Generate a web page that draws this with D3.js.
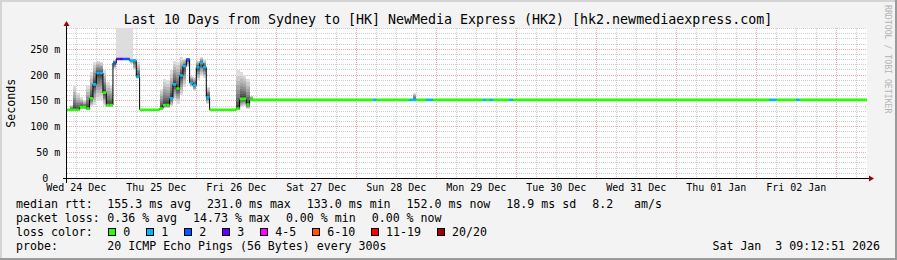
<!DOCTYPE html>
<html><head><meta charset="utf-8">
<script src="https://cdn.jsdelivr.net/npm/d3@7"></script>
<style>
body{margin:0;background:#f3f3f3}
svg{display:block}
text{font-family:"DejaVu Sans Mono",monospace;white-space:pre}
</style>
</head><body><div id="chart"></div>
<script>
// ---------------- data ----------------
const title = "Last 10 Days from Sydney to [HK] NewMedia Express (HK2) [hk2.newmediaexpress.com]";
const startTime = "2025-12-24T09:12:51Z";
const endTime = "2026-01-03T09:12:51Z";
const baseDay = "2025-12-24T00:00:00Z"; // bin start hours are counted from here
// hourly bins (a bin lasts until the next start); last bin ends at binEndLast
const binStart  = [9,10,11,12,13,14,15,16,17,18,19,20,21,22,23,24,25,26,27,28,29,30,31,37,38,39,40,41,42,43,44,45,46,47,48,49,50,51,52,60,61,62,63,64,65,101,102,112,113,114,117,119,134,135,136,137,142,143,220,222,228,229];
const binEndLast = 250;
const binMedian = [133,133,133,133,138,138,135,155,182,204,204,166,142,142,223,231,231,231,231,228,228,197,133,135,142,142,155,182,174,199,217,230,185,180,215,223,215,157,133,135,154,154,143,152,152,152,152,152,152,152,152,152,152,152,152,152,152,152,152,152,152,152];
const binLoss   = [0,0,0,0,0,0,0,0,1,1,1,0,0,0,2,3,3,2,2,1,1,1,0,0,0,0,1,1,0,1,1,2,1,1,1,1,1,1,0,0,0,0,0,0,0,1,0,1,1,0,1,0,1,0,1,0,1,0,1,0,1,0];
const smokeLo   = [132,132,132,132,134,134,133,140,142,150,152,141,138,138,212,229,229,229,229,222,209,193,132,133,136,136,141,151,145,161,177,215,177,170,190,199,195,145,132,133,138,140,135,150,151,151,151,151,150,151,151,151,151,151,151,151,151,151,151,151,151,151];
const smokeHi   = [134,142,180,165,157,152,180,205,225,228,226,209,186,180,230,233,233,233,233,232,232,225,134,174,193,190,209,228,226,235,231,233,199,196,228,235,230,177,134,209,206,200,193,160,153,153,153,153,166,153,153,153,153,153,153,153,153,153,153,153,153,153];
const smokeCeil = [null,null,null,null,null,null,null,null,null,null,null,null,null,null,null,300,300,300,300,300,null,null,null,null,null,null,null,null,null,null,null,null,null,null,null,null,null,null,null,null,null,null,null,null,null,null,null,null,null,null,null,null,null,null,null,null,null,null,null,null,null,null];
const yTicks = [0,50,100,150,200,250];
const yMax = 290;
const lossLabels = ["0","1","2","3","4-5","6-10","11-19","20/20"];
const lossColors = ["#26ff00","#00b8ff","#0059ff","#5e00ff","#ff00ff","#ff5500","#ff0000","#a00000"];
const rttLabel = "median rtt:";
const rttItems = ["155.3 ms avg","231.0 ms max","133.0 ms min","152.0 ms now","18.9 ms sd","8.2   am/s"];
const lossLabel = "packet loss:";
const lossItems = ["0.36 % avg","14.73 % max","0.00 % min","0.00 % now"];
const colorLabel = "loss color:";
const probeLabel = "probe:";
const probeText = "20 ICMP Echo Pings (56 Bytes) every 300s";
const stampText = "Sat Jan  3 09:12:51 2026";
const yAxisTitle = "Seconds";
const watermark = "RRDTOOL / TOBI OETIKER";

// ---------------- layout ----------------
const W = 897, H = 260;
const PL = 67, PR = 867, PT = 28, PB = 178.5;
const mono = '"DejaVu Sans Mono",monospace';

const svg = d3.select("#chart").append("svg").attr("width", W).attr("height", H);
svg.append("rect").attr("width", W).attr("height", H).attr("fill", "#f3f3f3");
// frame shading
svg.append("path").attr("d", `M0,0H${W}V2H2V${H}H0Z`).attr("fill", "#d4d4d4");
svg.append("path").attr("d", `M${W},${H}H0V${H-2}H${W-2}V0H${W}Z`).attr("fill", "#9a9a9a");

const x = d3.scaleUtc().domain([new Date(startTime), new Date(endTime)]).range([PL, PR]);
const y = d3.scaleLinear().domain([0, yMax]).range([PB, PT + 0.5]);
const base = new Date(baseDay).getTime();
const hx = h => x(new Date(base + h * 3600e3));
const crisp = v => Math.round(v - 0.5) + 0.5;

// canvas
svg.append("rect").attr("x", PL).attr("y", PT).attr("width", PR - PL).attr("height", PB - PT).attr("fill", "#ffffff");

// grid
const grid = svg.append("g").attr("shape-rendering", "crispEdges").attr("stroke-dasharray", "1,1").attr("stroke-width", 1);
for (let v = 10; v <= yMax; v += 10) {
  const major = yTicks.includes(v);
  grid.append("line").attr("x1", PL).attr("x2", PR).attr("y1", crisp(y(v))).attr("y2", crisp(y(v)))
    .attr("stroke", major ? "#eca8a8" : "#cfcfcf");
}
const t0 = new Date(startTime), t1 = new Date(endTime);
d3.utcHour.every(6).range(t0, t1).forEach(t => {
  const major = t.getUTCHours() === 0;
  grid.append("line").attr("x1", crisp(x(t))).attr("x2", crisp(x(t))).attr("y1", PT).attr("y2", PB)
    .attr("stroke", major ? "#eca8a8" : "#cfcfcf");
});

// data
svg.append("clipPath").attr("id", "pc").append("rect")
  .attr("x", PL).attr("y", PT).attr("width", PR - PL).attr("height", PB - PT);
const data = svg.append("g").attr("clip-path", "url(#pc)");
const bins = binStart.map((s, i) => ({
  s, e: i + 1 < binStart.length ? binStart[i + 1] : binEndLast,
  med: binMedian[i], loss: binLoss[i], lo: smokeLo[i], hi: smokeHi[i], ceil: smokeCeil[i]
}));
const lossClass = n => n <= 3 ? n : n <= 5 ? 4 : n <= 10 ? 5 : n <= 19 ? 6 : 7;

const smoke = data.append("g").attr("shape-rendering", "crispEdges");
const NB = 10;
bins.forEach(b => {
  const x0 = Math.round(hx(b.s)), x1 = Math.round(hx(b.e));
  if (b.ceil != null) {
    smoke.append("rect").attr("x", x0).attr("width", x1 - x0)
      .attr("y", y(b.ceil)).attr("height", y(b.hi) - y(b.ceil)).attr("fill", "#dddddd");
  }
  for (let k = 0; k < NB; k++) {
    const f = Math.pow((NB - k) / NB, 1.4);
    const top = b.med + (b.hi - b.med) * f, bot = b.med - (b.med - b.lo) * f;
    const g = Math.round(221 - k * (171 / (NB - 1)));
    const yt = y(top), yb = y(bot);
    if (yb - yt < 0.3) continue;
    smoke.append("rect").attr("x", x0).attr("width", x1 - x0)
      .attr("y", yt).attr("height", yb - yt).attr("fill", d3.rgb(g, g, g));
  }
});

// median black step line
const medPts = [];
bins.forEach(b => { medPts.push([hx(b.s), y(b.med)]); medPts.push([hx(b.e), y(b.med)]); });
data.append("path").attr("d", d3.line()(medPts)).attr("fill", "none").attr("stroke", "#000").attr("stroke-width", 1);

// loss coloured median: horizontal dashes per bin
const segLine = d3.line();
bins.forEach(b => {
  data.append("path").attr("d", segLine([[hx(b.s), y(b.med)], [hx(b.e), y(b.med)]]))
    .attr("fill", "none").attr("stroke", lossColors[lossClass(b.loss)]).attr("stroke-width", 2.6);
});

// axes
const axis = svg.append("g").attr("shape-rendering", "crispEdges");
axis.append("line").attr("x1", PL - 4).attr("x2", PR + 4).attr("y1", crisp(y(0))).attr("y2", crisp(y(0))).attr("stroke", "#000");
axis.append("line").attr("x1", PL - 0.5).attr("x2", PL - 0.5).attr("y1", PB + 4).attr("y2", PT - 4).attr("stroke", "#000");
svg.append("path").attr("d", `M${PR + 2},${crisp(y(0)) - 3}L${PR + 7},${crisp(y(0))}L${PR + 2},${crisp(y(0)) + 3}Z`).attr("fill", "#a00000");
svg.append("path").attr("d", `M${PL - 3.5},${PT - 2}L${PL - 0.5},${PT - 7}L${PL + 2.5},${PT - 2}Z`).attr("fill", "#a00000");

// y labels
const yl = svg.append("g").attr("font-family", mono).attr("font-size", 10).attr("fill", "#000");
yTicks.forEach(v => {
  const yy = crisp(y(v)) + 3.6;
  yl.append("text").attr("x", 48.3).attr("y", yy).attr("text-anchor", "end").text(String(v));
  if (v !== 0) yl.append("text").attr("x", 54.2).attr("y", yy).text("m");
});

// x labels at noon
const fmt = d3.utcFormat("%a %d %b");
d3.utcDay.range(d3.utcDay.floor(t0), t1).map(d => d3.utcHour.offset(d, 12))
  .filter(d => d >= t0 && d <= t1)
  .forEach(d => {
    svg.append("text").attr("x", x(d)).attr("y", 190.6).attr("text-anchor", "middle")
      .attr("font-family", mono).attr("font-size", 10).text(fmt(d));
  });

// title
svg.append("text").attr("x", 448).attr("y", 24).attr("text-anchor", "middle")
  .attr("font-family", mono).attr("font-size", 13.3).text(title);

// y axis title
svg.append("text").attr("transform", `translate(15,${(PT + PB) / 2}) rotate(-90)`).attr("text-anchor", "middle")
  .attr("font-family", mono).attr("font-size", 11.6).text(yAxisTitle);

// watermark
svg.append("text").attr("transform", "translate(885,5) rotate(90)")
  .attr("font-family", mono).attr("font-size", 8.2).attr("fill", "#b4b4b4").text(watermark);

// legend
const LF = 11.6, GAP = 16, COL = 107.3;
const legend = svg.append("g").attr("font-family", mono).attr("font-size", LF).attr("fill", "#000");
function row(label, items, yy) {
  legend.append("text").attr("x", 16).attr("y", yy).text(label);
  let cx = COL;
  items.forEach(s => {
    const t = legend.append("text").attr("x", cx).attr("y", yy).text(s);
    cx += t.node().getComputedTextLength() + GAP;
  });
}
row(rttLabel, rttItems, 207.8);
row(lossLabel, lossItems, 221.8);
legend.append("text").attr("x", 16).attr("y", 235.8).text(colorLabel);
let lx = 108.3;
lossLabels.forEach((lab, i) => {
  legend.append("rect").attr("x", Math.round(lx) + 0.5).attr("y", 228.5).attr("width", 7).attr("height", 7)
    .attr("fill", lossColors[i]).attr("stroke", "#000").attr("stroke-width", 1).attr("shape-rendering", "crispEdges");
  const t = legend.append("text").attr("x", lx + 15).attr("y", 235.8).text(lab);
  lx = lx + 15 + t.node().getComputedTextLength() + GAP;
});
legend.append("text").attr("x", 16).attr("y", 249.8).text(probeLabel);
legend.append("text").attr("x", COL).attr("y", 249.8).text(probeText);
legend.append("text").attr("x", 880).attr("y", 249.8).attr("text-anchor", "end").text(stampText);
</script>
</body></html>
